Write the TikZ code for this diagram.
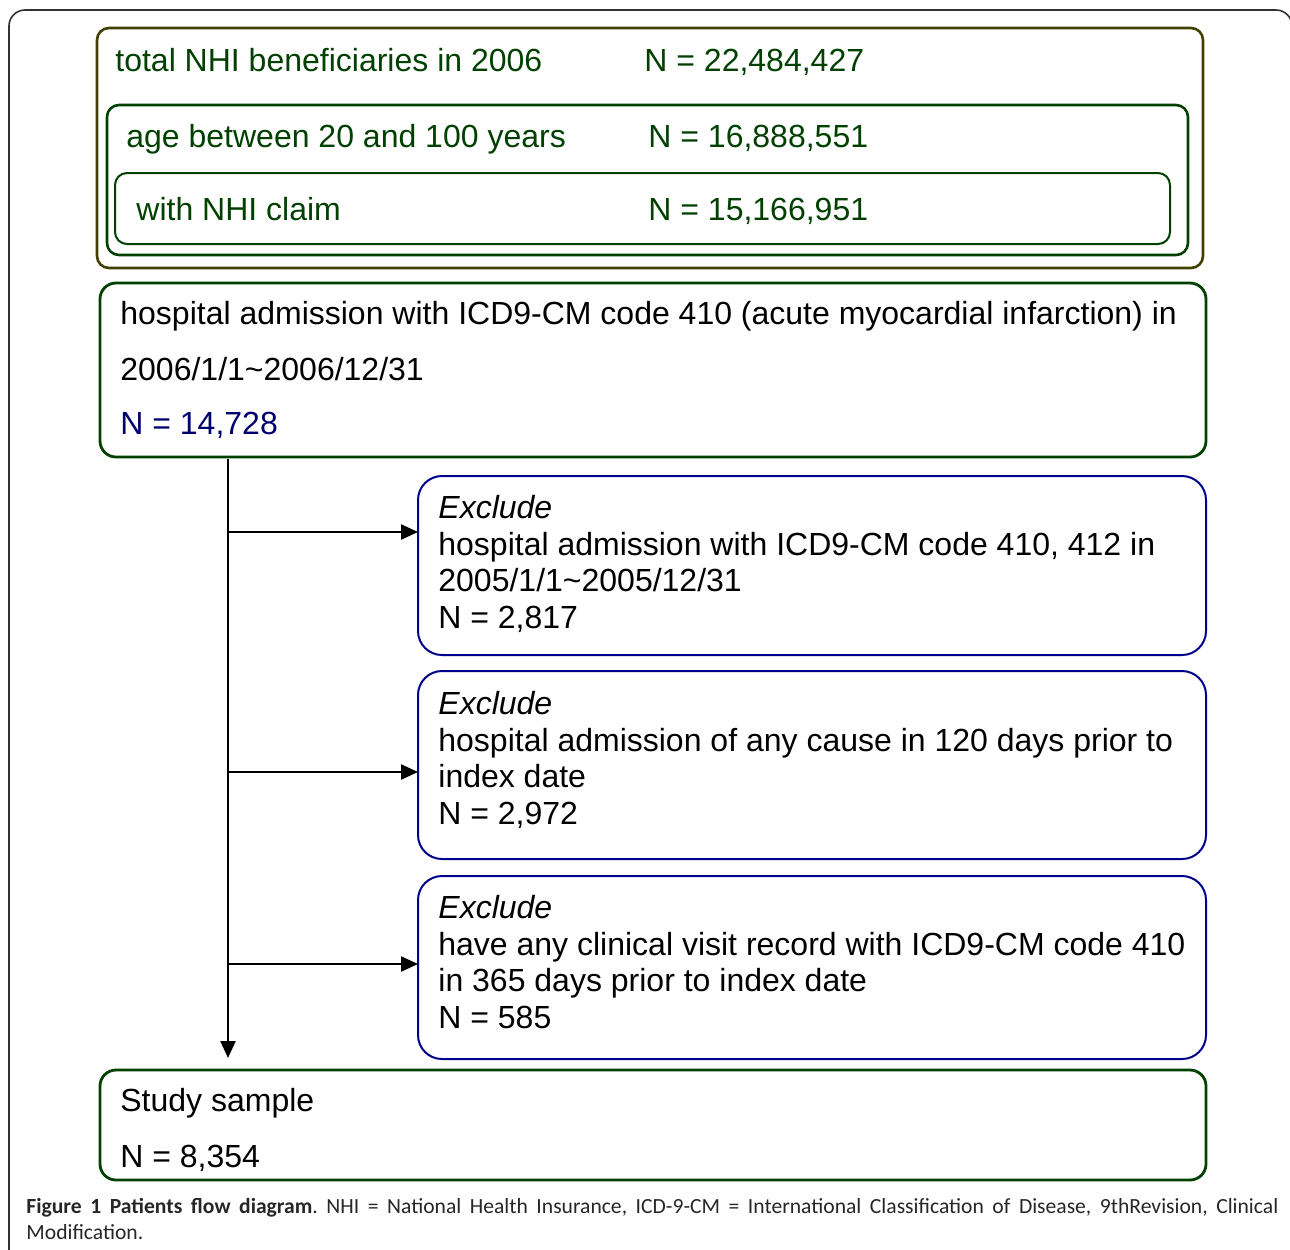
\documentclass[tikz,border=0pt]{standalone}
\usepackage{fontspec}
\setmainfont{Liberation Sans}
\newfontfamily\capfont{Carlito}
\definecolor{nhiolive}{RGB}{64,64,0}
\definecolor{nhigreen}{RGB}{0,64,0}
\definecolor{exblue}{RGB}{0,0,140}
\definecolor{nnavy}{RGB}{0,0,110}
\definecolor{framegray}{RGB}{50,50,50}
\usetikzlibrary{arrows.meta,positioning,calc}
\frenchspacing

\begin{document}
\begin{tikzpicture}[x=0.5pt, y=-0.5pt,
    nhibox/.style={rectangle, rounded corners=6pt, inner sep=0pt, outer sep=0pt,
                   anchor=north west, line width=1.3pt},
    mainbox/.style={rectangle, rounded corners=8pt, draw=nhigreen, inner sep=0pt,
                    outer sep=0pt, anchor=north west, line width=1.4pt, minimum width=553pt},
    exbox/.style={rectangle, rounded corners=12pt, draw=exblue, inner sep=0pt,
                  outer sep=0pt, anchor=north west, line width=1pt, minimum width=394pt},
    txt/.style={anchor=base west, inner sep=0pt, font=\fontsize{16pt}{18pt}\selectfont},
    flow/.style={-{Triangle[length=8.5pt,width=7.5pt]}, line width=1.2pt},
  ]
    \useasboundingbox (0,0) rectangle (1290,1249);

    % page frame
    \draw[framegray, line width=0.8pt, rounded corners=8pt]
      (9,1260) -- (9,10) -- (1292,10) -- (1292,60);

    % NHI population boxes
    \node[nhibox, draw=nhiolive, minimum width=553pt, minimum height=120pt] (total) at (97,28) {};
    \node[nhibox, draw=nhigreen, minimum width=540.5pt, minimum height=75pt] (age) at (107,105) {};
    \node[nhibox, draw=nhigreen, line width=1pt, minimum width=527.5pt, minimum height=35.5pt] (claim) at (115,173) {};

    \node[txt, text=nhigreen] (totalL) at (115,71) {total NHI beneficiaries in 2006};
    \node[txt, text=nhigreen] (totalN) at (644,71) {N = 22,484,427};
    \node[txt, text=nhigreen] (ageL) at (126,147) {age between 20 and 100 years};
    \node[txt, text=nhigreen] (ageN) at (648,147) {N = 16,888,551};
    \node[txt, text=nhigreen] (claimL) at (136,220) {with NHI claim};
    \node[txt, text=nhigreen] (claimN) at (648,220) {N = 15,166,951};

    % AMI admission box
    \node[mainbox, minimum height=87pt] (adm) at (100,283) {};
    \node[txt] (admA) at (120,324) {hospital admission with ICD9-CM code 410 (acute myocardial infarction) in};
    \node[txt] (admB) at (120,380) {2006/1/1\char`~2006/12/31};
    \node[txt, text=nnavy] (admN) at (120,434) {N = 14,728};

    % exclusion boxes
    \node[exbox, minimum height=89.5pt] (ex1) at (418,476) {};
    \node[txt] at (438,518) {\itshape Exclude};
    \node[txt] at (438,555) {hospital admission with ICD9-CM code 410, 412 in};
    \node[txt] at (438,591) {2005/1/1\char`~2005/12/31};
    \node[txt] at (438,628) {N = 2,817};

    \node[exbox, minimum height=94pt] (ex2) at (418,671) {};
    \node[txt] at (438,714) {\itshape Exclude};
    \node[txt] at (438,751) {hospital admission of any cause in 120 days prior to};
    \node[txt] at (438,787) {index date};
    \node[txt] at (438,824) {N = 2,972};

    \node[exbox, minimum height=91.5pt] (ex3) at (418,876) {};
    \node[txt] at (438,918) {\itshape Exclude};
    \node[txt] at (438,955) {have any clinical visit record with ICD9-CM code 410};
    \node[txt] at (438,991) {in 365 days prior to index date};
    \node[txt] at (438,1028) {N = 585};

    % study sample box
    \node[mainbox, minimum height=55pt] (study) at (100,1070) {};
    \node[txt] (studyL) at (120,1111) {Study sample};
    \node[txt] (studyN) at (120,1167) {N = 8,354};

    % flow lines
    \coordinate (spine) at (228,0);
    \coordinate (a1) at (228,532);
    \coordinate (a2) at (228,772);
    \coordinate (a3) at (228,964);
    \draw[flow] ([yshift=-1pt]adm.south -| spine) -- ([yshift=6pt]study.north -| spine);
    \draw[flow] (a1) -- (a1 -| ex1.west);
    \draw[flow] (a2) -- (a2 -| ex2.west);
    \draw[flow] (a3) -- (a3 -| ex3.west);

    % caption
    \node[anchor=north west, inner sep=0pt, text width=626pt, align=justify,
          font=\capfont\fontsize{10.8pt}{13pt}\selectfont, text=black!85] (caption) at (26,1198)
      {\textbf{Figure 1 Patients flow diagram}. NHI = National Health Insurance, ICD-9-CM = International Classification of Disease, 9thRevision, Clinical\linebreak Modification.};
  \end{tikzpicture}
\end{document}
